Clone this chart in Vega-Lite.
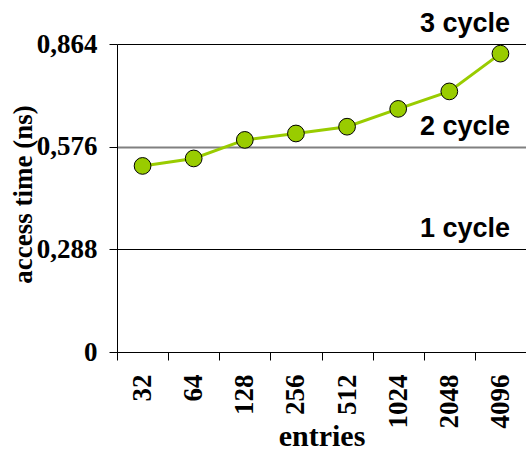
{
  "$schema": "https://vega.github.io/schema/vega-lite/v6.json",
  "width": 409,
  "height": 308,
  "autosize": {"type": "none"},
  "padding": {"left": 117, "top": 44, "right": 0, "bottom": 98},
  "background": "white",
  "config": {"view": {"stroke": null}, "font": "Liberation Serif"},
  "datasets": {
    "main": [
      {"entries": "32", "time": 0.522},
      {"entries": "64", "time": 0.543},
      {"entries": "128", "time": 0.595},
      {"entries": "256", "time": 0.613},
      {"entries": "512", "time": 0.632},
      {"entries": "1024", "time": 0.682},
      {"entries": "2048", "time": 0.731},
      {"entries": "4096", "time": 0.837}
    ],
    "levels": [
      {"entries": "4096", "level": 0.288, "label": "1 cycle"},
      {"entries": "4096", "level": 0.576, "label": "2 cycle"},
      {"entries": "4096", "level": 0.864, "label": "3 cycle"}
    ]
  },
  "layer": [
    {
      "data": {"name": "main"},
      "mark": {"type": "line", "color": "#99CC00", "strokeWidth": 3},
      "encoding": {
        "x": {
          "field": "entries", "type": "ordinal", "sort": null,
          "scale": {"paddingInner": 0, "paddingOuter": 0},
          "axis": {
            "labelAngle": -90, "labelFont": "Liberation Serif", "labelFontWeight": "bold",
            "labelFontSize": 27, "labelColor": "black", "labelPadding": 14,
            "tickSize": 8, "tickBand": "extent", "tickColor": "black", "domainColor": "black",
            "grid": false,
            "title": "entries", "titleFont": "Liberation Serif", "titleFontWeight": "bold",
            "titleFontSize": 30, "titleColor": "black", "titleX": 204.5, "titleY": 93,
            "titleBaseline": "alphabetic", "titleAlign": "center"
          }
        },
        "y": {
          "field": "time", "type": "quantitative",
          "scale": {"domain": [0, 0.864], "nice": false, "zero": true},
          "axis": {
            "values": [0, 0.288, 0.576, 0.864],
            "labelExpr": "replace(format(datum.value, '.3~f'), '.', ',')",
            "labelFont": "Liberation Serif", "labelFontWeight": "bold", "labelFontSize": 27,
            "labelColor": "black", "labelPadding": 12,
            "tickSize": 8, "tickColor": "black", "domainColor": "black",
            "grid": true,
            "gridColor": {"condition": {"test": "abs(datum.value - 0.576) < 0.001", "value": "#808080"}, "value": "black"},
            "gridWidth": {"condition": {"test": "abs(datum.value - 0.576) < 0.001", "value": 2}, "value": 1},
            "gridOpacity": 1,
            "title": "access time (ns)", "titleFont": "Liberation Serif", "titleFontWeight": "bold",
            "titleFontSize": 27, "titleColor": "black", "titleAngle": -90,
            "titleX": -86, "titleY": 150, "titleBaseline": "alphabetic", "titleAlign": "center"
          }
        }
      }
    },
    {
      "data": {"name": "main"},
      "mark": {"type": "circle", "color": "#99CC00", "opacity": 1, "stroke": "black", "strokeWidth": 1, "size": 280},
      "encoding": {
        "x": {"field": "entries", "type": "ordinal", "sort": null},
        "y": {"field": "time", "type": "quantitative"}
      }
    },
    {
      "data": {"name": "levels"},
      "mark": {"type": "text", "font": "Liberation Sans", "fontWeight": "bold", "fontSize": 27,
               "align": "right", "baseline": "alphabetic", "dx": -16, "dy": -12, "color": "black"},
      "encoding": {
        "x": {"field": "entries", "type": "ordinal", "sort": null, "bandPosition": 1},
        "y": {"field": "level", "type": "quantitative"},
        "text": {"field": "label"}
      }
    }
  ]
}
